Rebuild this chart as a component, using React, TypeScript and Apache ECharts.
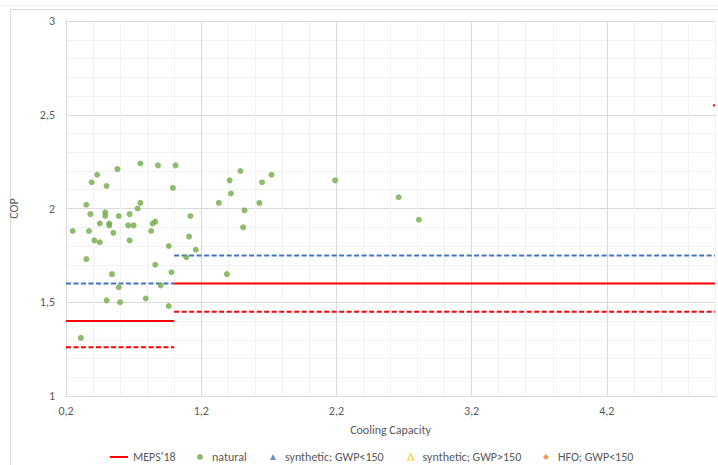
import React, { useEffect, useRef } from 'react';
import * as echarts from 'echarts';

// Cooling capacity (x) / COP (y) of "natural" refrigerant units
const natural: [number, number][] = [
  [0.75, 2.24], [0.88, 2.23], [1.01, 2.23], [0.58, 2.21], [0.43, 2.18], [0.39, 2.14], [0.50, 2.12], [0.99, 2.11],
  [1.33, 2.03], [0.75, 2.03], [0.35, 2.02], [0.73, 2.00], [0.49, 1.98], [0.38, 1.97], [0.67, 1.97], [0.49, 1.96],
  [0.59, 1.96], [1.12, 1.96], [0.86, 1.93], [0.84, 1.92], [0.45, 1.92], [0.52, 1.92], [0.52, 1.91], [0.66, 1.91],
  [0.70, 1.91], [0.55, 1.87], [0.25, 1.88], [0.37, 1.88], [0.83, 1.88], [1.11, 1.85], [0.41, 1.83], [0.45, 1.82],
  [0.67, 1.83], [0.96, 1.80], [1.16, 1.78], [0.35, 1.73], [1.09, 1.74], [0.86, 1.70], [0.98, 1.66], [0.54, 1.65],
  [0.90, 1.59], [0.59, 1.58], [0.50, 1.51], [0.60, 1.50], [0.79, 1.52], [0.96, 1.48], [0.31, 1.31],
  [1.49, 2.20], [1.41, 2.15], [1.65, 2.14], [1.72, 2.18], [1.42, 2.08], [1.63, 2.03], [1.52, 1.99], [1.51, 1.90],
  [1.39, 1.65], [2.19, 2.15], [2.66, 2.06], [2.81, 1.94],
];
const syntheticLow: [number, number][] = [];
const syntheticHigh: [number, number][] = [];
const hfoLow: [number, number][] = [];

// MEPS'18 thresholds (solid), -10% (red dashed), +10% (blue dashed)
const mepsLow: [number, number][] = [[0.2, 1.4], [1.0, 1.4]];
const mepsHigh: [number, number][] = [[1.0, 1.6], [5.0, 1.6]];
const mepsStub: [number, number][] = [[4.985, 2.55], [5.0, 2.55]];
const redDashLow: [number, number][] = [[0.2, 1.26], [1.0, 1.26]];
const redDashHigh: [number, number][] = [[1.0, 1.45], [5.0, 1.45]];
const blueDashLow: [number, number][] = [[0.2, 1.6], [1.0, 1.6]];
const blueDashHigh: [number, number][] = [[1.0, 1.75], [5.0, 1.75]];

const xMin = 0.2, xMax = 5.0, xStep = 0.2;
const yMin = 1, yMax = 3, yStep = 0.5;

const FONT = "Carlito, Calibri, Lato, sans-serif";
const TXT = '#595959';

export default function App() {
  const ref = useRef<HTMLDivElement>(null);
  useEffect(() => {
    if (!ref.current) return;
    const chart = echarts.init(ref.current, undefined, { renderer: 'svg' });
    const comma = (v: number) => String(Math.round(v * 10) / 10).replace('.', ',');
    const lineS = (name: string, data: any, color: string, dashed: boolean) => ({
      name, type: 'line', data, symbol: 'none', showSymbol: false,
      lineStyle: { color, width: 2, type: dashed ? [5, 2.5] : 'solid' },
      itemStyle: { color }, z: 3, silent: true,
    });
    const markerLegend = (name: string, icon: string, left: number, itemStyle: any) => ({
      data: [{ name, icon, itemStyle }], left, top: 451, padding: 0,
      itemWidth: 6, itemHeight: 6,
      textStyle: { color: TXT, fontSize: 12, fontFamily: FONT, padding: [0, 0, 0, 4] },
      selectedMode: false,
    });
    chart.setOption({
      animation: false,
      backgroundColor: '#fff',
      grid: { left: 66, right: 2, top: 21, bottom: 69, containLabel: false },
      graphic: [
        { type: 'line', shape: { x1: 0, y1: 5.5, x2: 718, y2: 5.5 }, style: { stroke: '#F0F0F0', lineWidth: 1 }, silent: true },
        { type: 'line', shape: { x1: 10.5, y1: 9.5, x2: 718, y2: 9.5 }, style: { stroke: '#D9D9D9', lineWidth: 1 }, silent: true },
        { type: 'line', shape: { x1: 10.5, y1: 9.5, x2: 10.5, y2: 465 }, style: { stroke: '#D9D9D9', lineWidth: 1 }, silent: true },
      ],
      xAxis: {
        type: 'value', min: xMin, max: xMax, interval: xStep,
        name: 'Cooling Capacity', nameLocation: 'middle', nameGap: 28,
        nameTextStyle: { color: TXT, fontSize: 12, fontFamily: FONT },
        axisLine: { show: true, onZero: false, lineStyle: { color: '#D9D9D9' } },
        axisTick: { show: false },
        axisLabel: {
          color: TXT, fontSize: 12, fontFamily: FONT, margin: 9,
          formatter: (v: number) => {
            const r = (v - xMin) % 1;
            return (Math.abs(r) < 1e-6 || Math.abs(r - 1) < 1e-6) ? comma(v) : '';
          },
        },
        splitLine: {
          show: true,
          lineStyle: { color: ['#D9D9D9', '#F2F2F2', '#F2F2F2', '#F2F2F2', '#F2F2F2'], width: 1 },
        },
      },
      yAxis: {
        type: 'value', min: yMin, max: yMax, interval: yStep,
        name: 'COP', nameLocation: 'middle', nameGap: 46, nameRotate: 90,
        nameTextStyle: { color: TXT, fontSize: 12, fontFamily: FONT },
        axisLine: { show: true, onZero: false, lineStyle: { color: '#D9D9D9' } },
        axisTick: { show: false },
        axisLabel: { color: TXT, fontSize: 12, fontFamily: FONT, margin: 11, formatter: (v: number) => comma(v) },
        splitLine: { show: true, lineStyle: { color: '#D9D9D9', width: 1 } },
        minorTick: { show: false, splitNumber: 5 },
        minorSplitLine: { show: true, lineStyle: { color: '#F2F2F2', width: 1 } },
      },
      legend: [
        {
          data: [{ name: "MEPS'18", icon: 'rect', itemStyle: { color: '#FF0000' } }],
          left: 110, top: 451, padding: 0, itemWidth: 18, itemHeight: 2,
          textStyle: { color: TXT, fontSize: 12, fontFamily: FONT },
          selectedMode: false,
        },
        markerLegend('natural', 'circle', 197, { color: '#70AD47' }),
        markerLegend('synthetic; GWP<150', 'triangle', 270, { color: '#4472C4' }),
        markerLegend('synthetic; GWP>150', 'triangle', 407, { color: '#FFFFFF', borderColor: '#FFC000', borderWidth: 1.2 }),
        markerLegend('HFO; GWP<150', 'diamond', 543, { color: '#ED7D31' }),
      ],
      series: [
        lineS("MEPS'18", mepsLow, '#FF0000', false),
        lineS("MEPS'18", mepsHigh, '#FF0000', false),
        lineS("MEPS'18", mepsStub, '#FF0000', false),
        lineS('MEPS -10% low', redDashLow, '#FF0000', true),
        lineS('MEPS -10% high', redDashHigh, '#FF0000', true),
        lineS('MEPS +10% low', blueDashLow, '#4472C4', true),
        lineS('MEPS +10% high', blueDashHigh, '#4472C4', true),
        {
          name: 'natural', type: 'scatter', data: natural, symbol: 'circle', symbolSize: 6,
          itemStyle: { color: '#70AD47' }, z: 4,
        },
        {
          name: 'synthetic; GWP<150', type: 'scatter', data: syntheticLow, symbol: 'triangle', symbolSize: 6,
          itemStyle: { color: '#4472C4' },
        },
        {
          name: 'synthetic; GWP>150', type: 'scatter', data: syntheticHigh, symbol: 'triangle', symbolSize: 6,
          itemStyle: { color: '#FFFFFF', borderColor: '#FFC000', borderWidth: 1.2 },
        },
        {
          name: 'HFO; GWP<150', type: 'scatter', data: hfoLow, symbol: 'diamond', symbolSize: 6,
          itemStyle: { color: '#ED7D31' },
        },
      ],
    });
    return () => chart.dispose();
  }, []);
  return <div ref={ref} style={{ width: 718, height: 465, position: 'fixed', left: 0, top: 0 }} />;
}
